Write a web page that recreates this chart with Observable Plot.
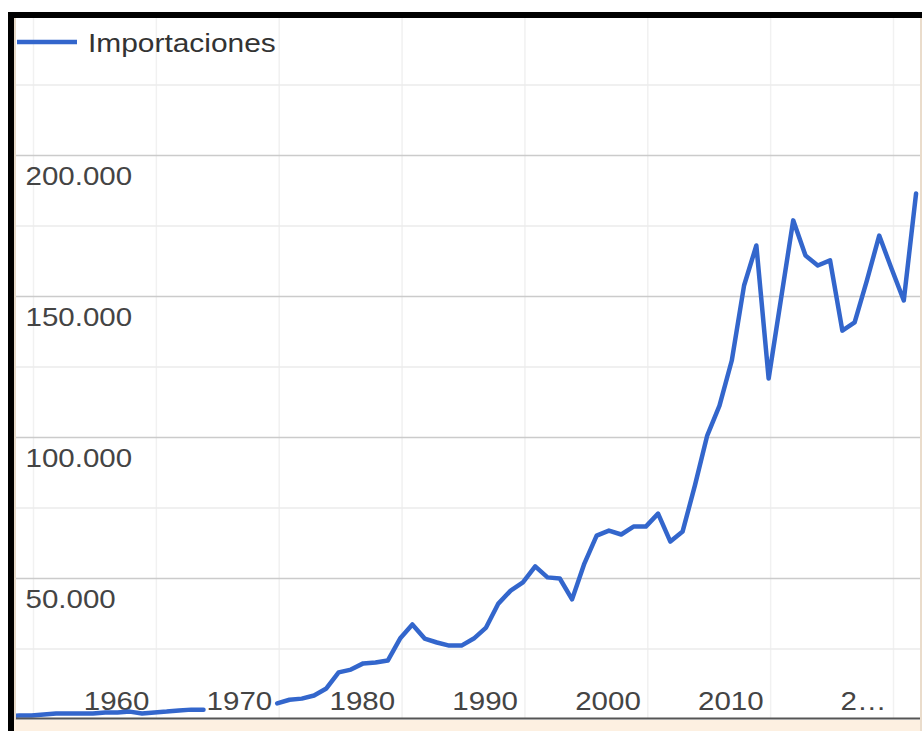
<!DOCTYPE html>
<html><head><meta charset="utf-8">
<script src="https://cdn.jsdelivr.net/npm/d3@7"></script>
<script src="https://cdn.jsdelivr.net/npm/@observablehq/plot@0.6"></script>
<style>
html,body{margin:0;padding:0;background:#fff;}
#wrap{position:relative;width:922px;height:731px;overflow:hidden;background:#fff;font-family:"Liberation Sans",Arial,sans-serif;}
#wrap > svg{position:absolute;left:0;top:0;}
.deco{position:absolute;}
</style></head><body>
<div id="wrap"></div>
<script>
const seriesName = "Importaciones";
const years = [1948,1949,1950,1951,1952,1953,1954,1955,1956,1957,1958,1959,1960,1961,1962,1963,1964,1965,1966,1967,1968,1969,
  1970,1971,1972,1973,1974,1975,1976,1977,1978,1979,1980,1981,1982,1983,1984,1985,1986,1987,1988,1989,
  1990,1991,1992,1993,1994,1995,1996,1997,1998,1999,2000,2001,2002,2003,2004,2005,2006,2007,2008,2009,
  2010,2011,2012,2013,2014,2015,2016,2017,2018,2019,2020,2021,2022];
const imports = [1300,1400,1400,1800,2100,2100,2100,2100,2500,2500,2800,2100,2500,2800,3200,3500,3500,null,null,null,null,null,
  5700,7000,7400,8500,11000,16700,17700,19900,20200,20900,28700,33700,28700,27300,26200,26200,28700,32600,41100,45700,
  48600,54300,50400,50000,42600,55300,65200,67000,65600,68400,68400,73000,63100,66700,83000,100700,111300,127300,153900,168100,
  120900,149000,177000,164500,161000,162800,137900,140800,155700,171600,159900,148600,186500];
const majorYTicks = [50000,100000,150000,200000];
const minorYTicks = [25000,75000,125000,175000,225000];
const yTickLabels = ["50.000","100.000","150.000","200.000"];
const xGridTicks = [1950,1960,1970,1980,1990,2000,2010,2020];
const xLabelTicks = [1960,1970,1980,1990,2000,2010,2020];
const xTickLabels = ["1960","1970","1980","1990","2000","2010","2…"];

const data = years.map((year, i) => ({year, value: imports[i]}));
const yLabels = majorYTicks.map((v, i) => ({v, label: yTickLabels[i]}));
const xLabels = xLabelTicks.map((v, i) => ({v, label: xTickLabels[i]}));

const chart = Plot.plot({
  width: 922, height: 731,
  marginLeft: 16, marginRight: 2, marginTop: 18, marginBottom: 12,
  x: {domain: [1950, 2020], range: [33, 893], axis: null},
  y: {domain: [0, 200000], range: [719, 155], axis: null},
  style: {background: "transparent", fontFamily: "'Liberation Sans', Arial, sans-serif"},
  marks: [
    Plot.ruleX(xGridTicks, {x: d => d, stroke: "#f1f1f1", strokeWidth: 1.5}),
    Plot.ruleY(minorYTicks, {y: d => d, stroke: "#ebebeb", strokeWidth: 1.3}),
    Plot.ruleY(majorYTicks, {y: d => d, stroke: "#cbcbcb", strokeWidth: 1.3}),
    Plot.text(yLabels, {y: "v", text: "label", frameAnchor: "left", lineAnchor: "middle", textAnchor: "start", dx: 9, dy: 21, fontSize: 25, fill: "#444"}),
    Plot.text(xLabels, {x: "v", text: "label", frameAnchor: "bottom", lineAnchor: "middle", textAnchor: "end", dx: -7, dy: -18, fontSize: 25, fill: "#444"}),
    Plot.line(data, {x: "year", y: "value", stroke: "#3366cc", strokeWidth: 4.5, dx: -2, clip: true}),
    Plot.ruleY([0], {stroke: "#555", strokeWidth: 2, dy: -1})
  ]
});
const wrap = document.getElementById("wrap");
wrap.appendChild(chart);

function stretch(svg, f) {
  svg.querySelectorAll("text").forEach(t => {
    const L = t.getComputedTextLength();
    if (L > 0) { t.setAttribute("textLength", (L * f).toFixed(1)); t.setAttribute("lengthAdjust", "spacingAndGlyphs"); }
  });
}
stretch(chart, 1.18);

// legend
const leg = d3.create("svg").attr("width", 320).attr("height", 70).style("left", "0px").style("top", "0px");
leg.append("line").attr("x1", 17).attr("x2", 77).attr("y1", 42).attr("y2", 42).attr("stroke", "#3366cc").attr("stroke-width", 4.5);
leg.append("text").attr("x", 88).attr("y", 52).attr("font-size", 26).attr("fill", "#333")
  .attr("font-family", "'Liberation Sans', Arial, sans-serif").text(seriesName);
wrap.appendChild(leg.node());
stretch(leg.node(), 1.15);

// frame decorations
function deco(l, t, w, h, bg) {
  const d = document.createElement("div");
  d.className = "deco";
  Object.assign(d.style, {left: l + "px", top: t + "px", width: w + "px", height: h + "px", background: bg});
  wrap.appendChild(d);
}
deco(14, 720, 908, 11, "#fdf0e1");
deco(14, 18, 2, 702, "#e6d9c8");
deco(920, 18, 2, 713, "#eadccb");
deco(8, 12, 914, 6, "#000");
deco(8, 12, 6, 719, "#000");
</script>
</body></html>
